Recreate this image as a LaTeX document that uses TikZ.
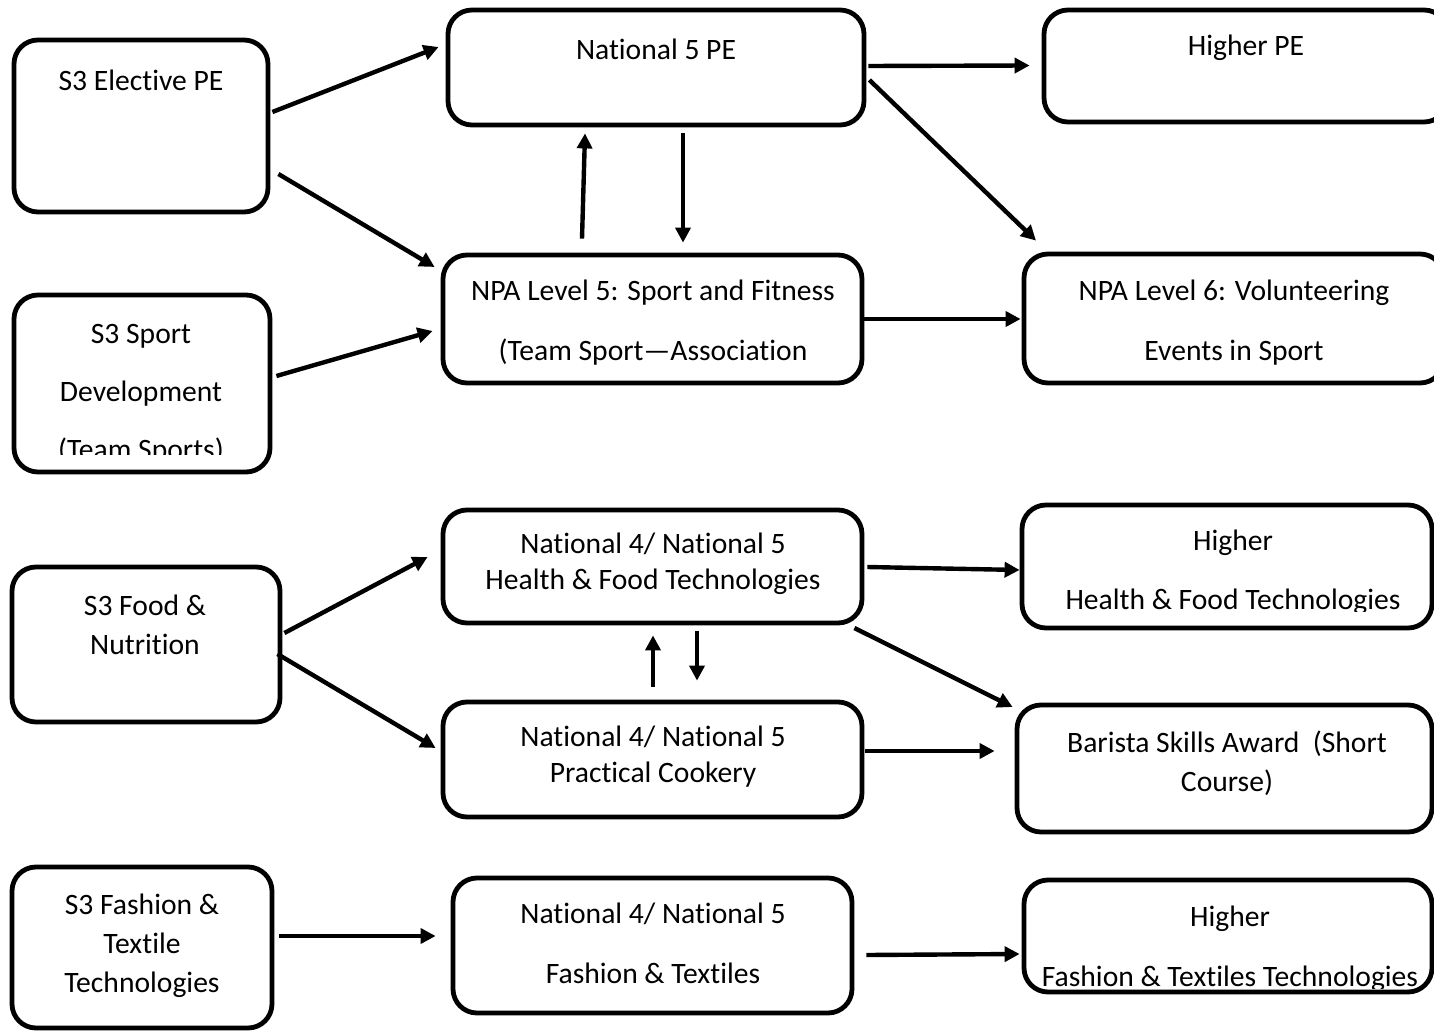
\documentclass[tikz,border=0pt]{standalone}
\usepackage{fontspec}
\setmainfont{Carlito}[Ligatures={NoCommon}, RawFeature={-calt;-clig;-rlig;-dlig}]
\usetikzlibrary{arrows.meta,calc,fit}
\begin{document}
\begin{tikzpicture}[x=0.5pt,y=-0.5pt,
  box/.style={draw, line width=2.4pt, rounded corners=12pt, inner sep=0pt},
  lbl/.style={align=center, inner sep=0pt, font=\fontsize{14.8}{#1}\selectfont},
  lbl/.default=17pt,
  arr/.style={line width=2.2pt, -{Triangle[length=7.5pt,width=7.5pt]}}]
\clip (0,0) rectangle (1434,1032);
\fill[white] (0,0) rectangle (1434,1032);

% boxes
\node[box, fit={(14,40) (268,212)}] (e1) {};
\node[box, fit={(448,10) (864,125)}] (n5) {};
\node[box, fit={(1044,10) (1448,122)}] (hpe) {};
\node[box, fit={(14,295) (270,472)}] (s3s) {};
\node[box, fit={(443,255) (862,383)}] (npa5) {};
\node[box, fit={(1024,254) (1444,383)}] (npa6) {};
\node[box, fit={(12,567) (280,722)}] (food) {};
\node[box, fit={(443,510) (862,623)}] (hft) {};
\node[box, fit={(1022,505) (1432,628)}] (hhft) {};
\node[box, fit={(443,702) (862,817)}] (pc) {};
\node[box, fit={(1017,705) (1432,832)}] (bar) {};
\node[box, fit={(12,867) (272,1028)}] (ft) {};
\node[box, fit={(453,878) (852,1013)}] (nf) {};
\node[box, fit={(1024,880) (1432,992)}] (hf) {};

% labels
\node[lbl] (te1) at (141,80) {S3 Elective PE};
\node[lbl] (tn5) at (656,49) {National 5 PE};
\node[lbl] (thpe) at (1246,48) {Higher PE};
\begin{scope}
\clip (14,295) rectangle (270,454);
\node[lbl=29pt] (ts3s) at (141,394) {S3 Sport\\Development\\(Team Sports)};
\end{scope}
\node[lbl=30pt] (tnpa5) at (653,323) {NPA Level 5: Sport and Fitness\\(Team Sport—Association};
\node[lbl=30pt] (tnpa6) at (1234,323) {NPA Level 6: Volunteering\\Events in Sport};
\node[lbl=19.5pt] (tfood) at (145,625) {S3 Food \&\\Nutrition};
\node[lbl=18pt] (thft) at (653,564) {National 4/ National 5\\Health \& Food Technologies};
\begin{scope}
\clip (1022,505) rectangle (1432,611);
\node[lbl=29.5pt] (thhft) at (1233,572) {Higher\\Health \& Food Technologies};
\end{scope}
\node[lbl=18pt] (tpc) at (653,757) {National 4/ National 5\\Practical Cookery};
\node[lbl=19.5pt] (tbar) at (1227,763) {Barista Skills Award\ \ (Short\\Course)};
\node[lbl=19.5pt] (tft) at (142,946) {S3 Fashion \&\\Textile\\Technologies};
\node[lbl=30pt] (tnf) at (653,943) {National 4/ National 5\\Fashion \& Textiles};
\begin{scope}
\clip (1024,880) rectangle (1432,988);
\node[lbl=30pt] (thf) at (1230,949) {Higher\\Fashion \& Textiles Technologies};
\end{scope}

% connectors
\draw[arr] ($(e1.east)+(2,-14)$) -- ($(n5.west)+(-7,-20.5)$);
\draw[arr] ($(e1.east)+(8,48)$) -- ($(npa5.west)+(-6,-52)$);
\draw[arr] ($(s3s.east)+(4,-7.5)$) -- ($(npa5.west)+(-8,12)$);
\draw[arr] ($(npa5.north)+(-70.5,-14)$) -- ($(n5.south)+(-71,6)$);
\draw[arr] ($(n5.south)+(27,6)$) -- ($(npa5.north)+(30.5,-10)$);
\draw[arr] ($(n5.east)+(2,-1.5)$) -- ($(hpe.west)+(-12,-0.5)$);
\draw[arr] ($(n5.east)+(3,12.5)$) -- ($(npa6.north)+(-198,-11)$);
\draw[arr] ($(npa5.east)+(-4,0)$) -- ($(npa6.west)+(-1,0.5)$);
\draw[arr] ($(food.east)+(2,-11.5)$) -- ($(hft.west)+(-13,-9.5)$);
\draw[arr] ($(food.east)+(-5,9.5)$) -- ($(pc.west)+(-5,-11.5)$);
\draw[arr] ($(pc.north)+(0.5,-13)$) -- ($(hft.south)+(0.5,10)$);
\draw[arr] ($(hft.south)+(44.5,6)$) -- ($(pc.north)+(44.5,-19)$);
\draw[arr] ($(hft.east)+(3,0.5)$) -- ($(hhft.west)+(0,3.5)$);
\draw[arr] ($(hft.east)+(-10,61.5)$) -- ($(bar.west)+(-2,-61.5)$);
\draw[arr] ($(pc.east)+(1,-8.5)$) -- ($(bar.west)+(-20,-17.5)$);
\draw[arr] ($(ft.east)+(5,-11.5)$) -- ($(nf.west)+(-15,-9.5)$);
\draw[arr] ($(nf.east)+(12,9.5)$) -- ($(hf.west)+(-2,18)$);
\end{tikzpicture}
\end{document}
